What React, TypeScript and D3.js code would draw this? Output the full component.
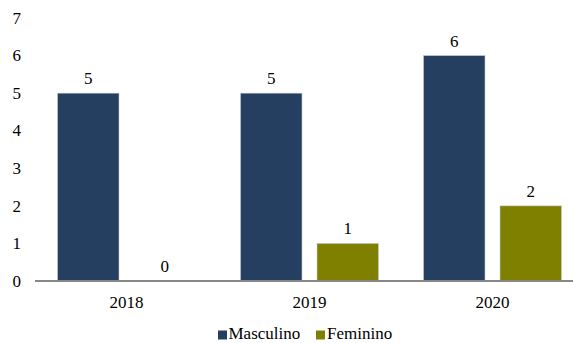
import React from "react";
import * as d3 from "d3";

const categories = ["2018", "2019", "2020"];
const seriesNames = ["Masculino", "Feminino"];
const masculino = [5, 5, 6];
const feminino = [0, 1, 2];
const yTicks = [0, 1, 2, 3, 4, 5, 6, 7];
const colors = ["#243F60", "#808000"];

const font = "'Liberation Serif', 'Times New Roman', serif";
const ts: React.CSSProperties = { fontFamily: font, fontSize: "17px" };

export default function App() {
  const W = 573, H = 343;
  const x = d3.scaleBand().domain(categories).range([35, 584]).paddingInner(0).paddingOuter(0);
  const xi = d3.scaleBand().domain(seriesNames).range([22.5, 183 - 22.5]).paddingInner(0.196);
  const y = d3.scaleLinear().domain([0, 7]).range([281, 18]);
  const values = [masculino, feminino];
  return (
    <svg width={W} height={H} style={{ position: "absolute", left: 0, top: 0 }}>
      <rect width={W} height={H} fill="#fff" />
      {yTicks.map((t) => (
        <text key={t} x={21} y={y(t)} dy="0.34em" textAnchor="end" style={ts} fill="#000">
          {t}
        </text>
      ))}
      {categories.map((c, i) =>
        seriesNames.map((s, j) => {
          const v = values[j][i];
          const bx = (x(c) as number) + (xi(s) as number);
          const bw = xi.bandwidth();
          return (
            <g key={c + s}>
              {v > 0 && (
                <rect x={bx} y={y(v)} width={bw} height={y(0) - y(v)} fill={colors[j]} stroke="#c8ccd4" strokeWidth={0.6} />
              )}
              <text x={bx + bw / 2} y={y(v) - 9} textAnchor="middle" style={ts} fill="#000">
                {v}
              </text>
            </g>
          );
        })
      )}
      <line x1={35} x2={573} y1={y(0)} y2={y(0)} stroke="#888" strokeWidth={2} />
      {categories.map((c) => (
        <text key={c} x={(x(c) as number) + x.bandwidth() / 2} y={308} textAnchor="middle" style={ts} fill="#000">
          {c}
        </text>
      ))}
      <g>
        <rect x={218} y={330.5} width={9} height={9} fill={colors[0]} />
        <text x={228.5} y={339.3} style={ts} fill="#000">{seriesNames[0]}</text>
        <rect x={316} y={330.5} width={9} height={9} fill={colors[1]} />
        <text x={327} y={339.3} style={ts} fill="#000">{seriesNames[1]}</text>
      </g>
    </svg>
  );
}
